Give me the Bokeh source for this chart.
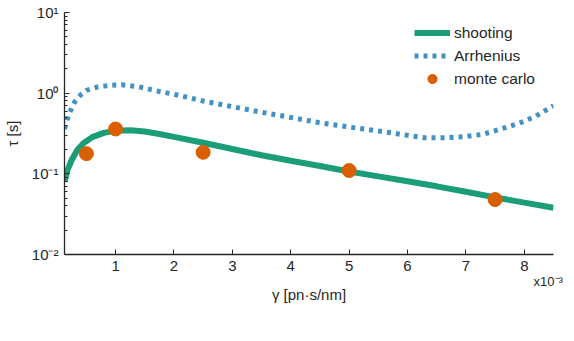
from bokeh.plotting import figure
from bokeh.models import (FixedTicker, Legend, LegendItem, LinearAxis, Range1d)
from bokeh.embed import file_html
from bokeh.resources import INLINE

# gamma in units of 1e-3 pn*s/nm
shoot_x = [0.125, 0.175, 0.25, 0.35, 0.45, 0.6, 0.8, 1.0, 1.25, 1.5, 1.75, 2.0, 2.5, 3.0, 3.5,
           4.0, 4.5, 5.0, 5.5, 6.0, 6.5, 7.0, 7.5, 8.0, 8.5]
shoot_y = [0.08, 0.11, 0.15, 0.2, 0.24, 0.285, 0.322, 0.343, 0.346, 0.335, 0.312, 0.287, 0.243,
           0.203, 0.17, 0.145, 0.125, 0.107, 0.093, 0.081, 0.07, 0.06, 0.051, 0.044, 0.038]

arr_x = [0.125, 0.2, 0.3, 0.4, 0.5, 0.7, 0.9, 1.1, 1.4, 1.75, 2.0, 2.5, 3.0, 3.5,
         4.0, 4.5, 5.0, 5.5, 6.0, 6.3, 6.6, 7.0, 7.3, 7.6, 7.9, 8.2, 8.5]
arr_y = [0.36, 0.55, 0.78, 0.95, 1.08, 1.2, 1.25, 1.27, 1.2, 1.05, 0.97, 0.8, 0.68, 0.58,
         0.5, 0.43, 0.38, 0.34, 0.3, 0.28, 0.28, 0.29, 0.31, 0.36, 0.42, 0.52, 0.70]

mc_x = [0.5, 1.0, 2.5, 5.0, 7.5]
mc_y = [0.178, 0.36, 0.185, 0.11, 0.048]

x_ticks = [1, 2, 3, 4, 5, 6, 7, 8]
y_ticks = [0.01, 0.1, 1, 10]
y_tick_labels = ["10\u207b\u00b2", "10\u207b\u00b9", "10\u2070", "10\u00b9"]
x_multiplier = "x10\u207b\u00b3"
x_multiplier_pos = 8.5

FONT = "Liberation Sans"
AX = "#262626"

p = figure(output_backend="svg", toolbar_location=None, y_axis_type="log",
           frame_width=489, frame_height=242,
           min_border_left=60, min_border_top=12, min_border_right=12, min_border_bottom=20,
           x_range=Range1d(0.125, 8.5), y_range=Range1d(0.01, 10))
p.outline_line_color = None
p.grid.visible = False

r_shoot = p.line(shoot_x, shoot_y, line_color="#1b9e77", line_width=6)
r_arr = p.line(arr_x, arr_y, line_color="#4292c6", line_width=5, line_dash="4 5")
r_mc = p.scatter(mc_x, mc_y, size=14, fill_color="#d95f02", line_color="#d95f02")

for ax in (p.xaxis[0], p.yaxis[0]):
    ax.axis_line_color = AX
    ax.axis_line_width = 1.3
    ax.major_tick_line_color = AX
    ax.minor_tick_line_color = AX
    ax.major_tick_in = 5
    ax.major_tick_out = 0
    ax.minor_tick_in = 3
    ax.minor_tick_out = 0
    ax.major_label_text_font = FONT
    ax.major_label_text_font_size = "15px"
    ax.major_label_text_color = AX
    ax.axis_label_text_font = FONT
    ax.axis_label_text_font_size = "15px"
    ax.axis_label_text_font_style = "normal"
    ax.axis_label_text_color = AX

p.xaxis.ticker = FixedTicker(ticks=x_ticks)
p.xaxis.minor_tick_line_color = None
p.xaxis.axis_label = "\u03b3 [pn\u00b7s/nm]"
p.xaxis.major_label_standoff = 6
p.xaxis.axis_label_standoff = 12

p.yaxis.ticker = FixedTicker(ticks=y_ticks,
                             minor_ticks=[m * 10.0 ** e for e in (-2, -1, 0) for m in range(2, 10)])
p.yaxis.major_label_overrides = {t: l for t, l in zip(y_ticks, y_tick_labels)}
p.yaxis.axis_label = "\u03c4 [s]"
p.yaxis.major_label_standoff = 6
p.yaxis.axis_label_standoff = 8

# exponent multiplier shown as a second, line-less bottom axis pulled up next to the tick labels
mult_axis = LinearAxis(ticker=FixedTicker(ticks=[x_multiplier_pos]),
                       major_label_overrides={x_multiplier_pos: x_multiplier},
                       axis_line_color=None, major_tick_line_color=None,
                       minor_tick_line_color=None, major_tick_in=0, major_tick_out=0,
                       major_label_standoff=-32, major_label_text_font=FONT,
                       major_label_text_font_size="13px", major_label_text_color=AX)
p.add_layout(mult_axis, "below")

legend = Legend(items=[LegendItem(label="shooting", renderers=[r_shoot]),
                       LegendItem(label="Arrhenius", renderers=[r_arr]),
                       LegendItem(label="monte carlo", renderers=[r_mc])],
                location=(350, 164), padding=0, margin=0, spacing=0,
                glyph_width=36, glyph_height=23, label_height=23, label_standoff=4,
                label_text_font=FONT, label_text_font_size="15.5px", label_text_color=AX,
                border_line_alpha=0, background_fill_alpha=0)
p.add_layout(legend, "center")

open("out.html", "w").write(file_html(p, INLINE))
